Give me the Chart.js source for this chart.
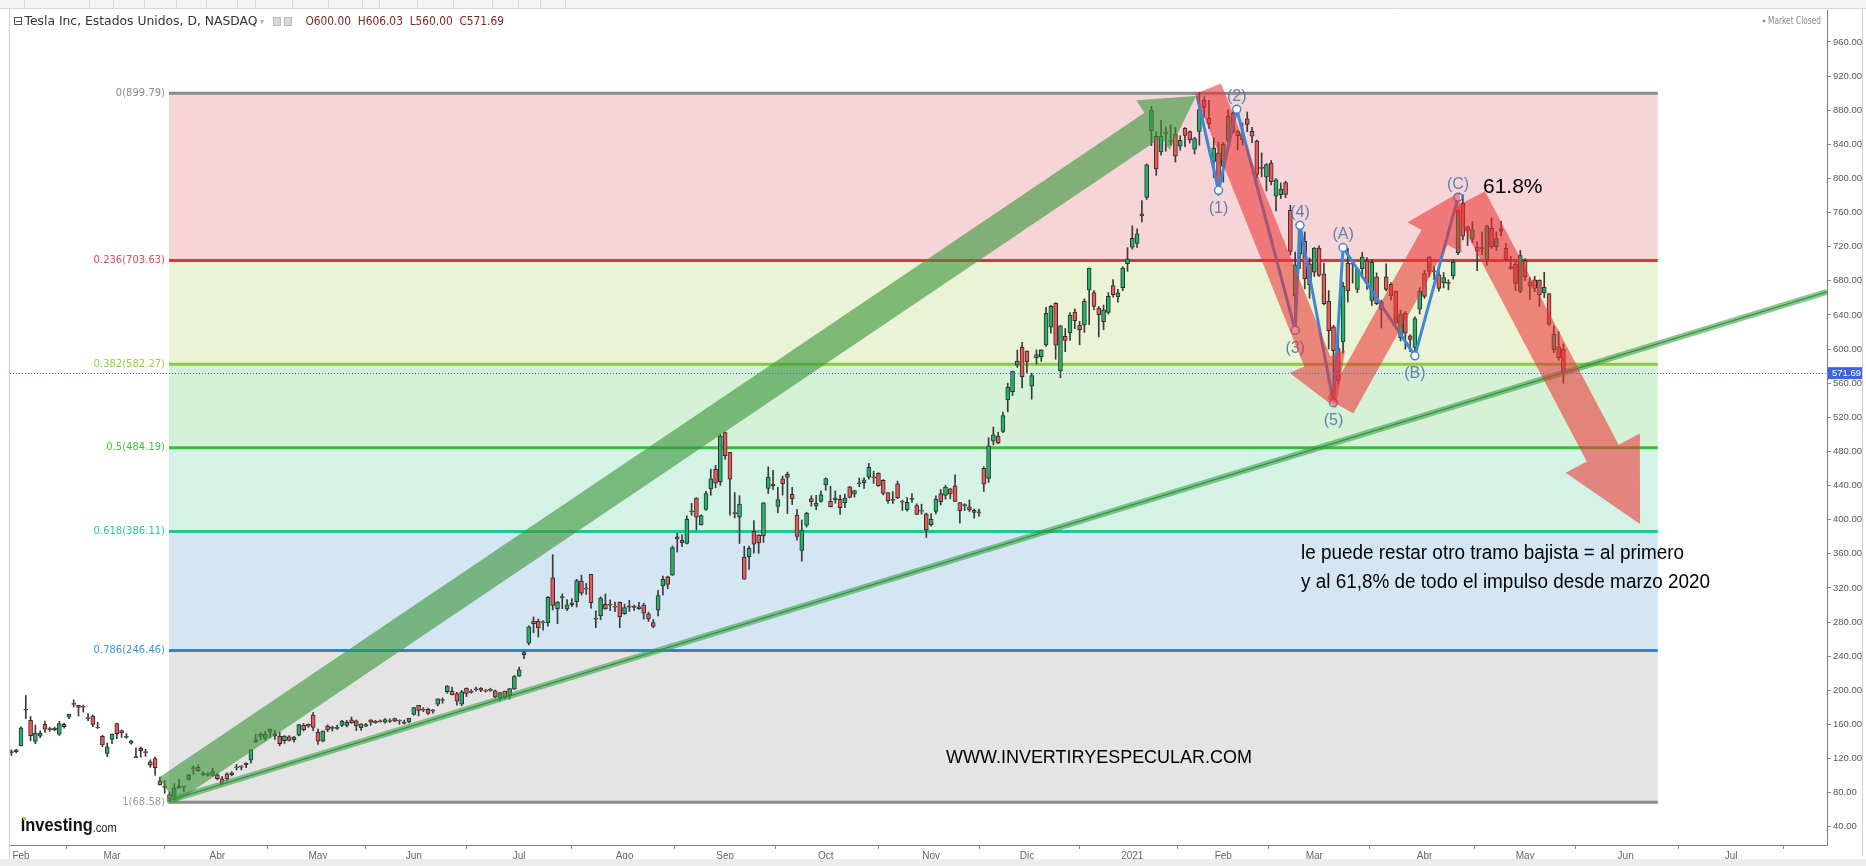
<!DOCTYPE html>
<html><head><meta charset="utf-8">
<script src="https://cdn.jsdelivr.net/npm/chart.js@4.4.1/dist/chart.umd.min.js"></script>
<style>html,body{margin:0;padding:0;background:#fff;}canvas{display:block;}</style>
</head><body>
<canvas id="c" width="1866" height="866" style="width:1866px;height:866px"></canvas>
<script>
// ---------- DATA (split-adjusted TSLA daily candles, Jan 30 2020 .. May 13 2021, index = trading day) ----------
const opens = [
126.5,128.0,
134.7,176.6,164.7,140.0,146.1,160.0,153.8,155.6,148.4,157.4,168.3,184.6,182.4,181.4,167.8,169.8,156.5,146.0,125.9,
142.3,161.0,152.8,144.8,138.0,121.1,131.9,128.0,116.2,119.8,93.8,88.0,77.8,74.9,87.6,86.7,95.5,109.0,109.5,101.0,102.1,100.3,
100.8,96.2,101.9,101.0,109.0,111.0,112.4,118.0,139.8,148.4,143.4,154.5,146.5,146.0,140.8,145.5,142.2,147.4,159.1,158.0,171.0,
151.0,140.2,157.9,155.3,155.4,158.8,158.8,165.2,164.2,156.0,158.0,165.3,163.6,163.8,162.7,164.4,166.9,164.2,162.7,162.8,
171.6,182.2,177.6,177.5,175.6,183.8,188.0,198.4,198.9,196.0,183.6,202.4,197.5,200.6,202.6,199.9,199.8,199.2,190.9,198.9,193.8,201.3,
216.6,244.3,255.3,281.0,281.0,279.4,279.2,331.8,295.4,308.6,295.4,302.6,303.8,327.9,319.8,335.8,283.2,287.0,300.8,300.2,297.6,303.0,
289.8,299.0,298.6,295.6,299.9,289.6,279.2,294.0,322.2,333.0,335.0,379.8,373.0,372.1,408.9,425.3,394.0,412.0,436.1,459.0,444.6,
502.1,479.0,407.2,402.8,356.0,356.6,386.2,381.9,381.0,436.6,439.9,415.6,447.9,453.1,429.6,405.2,363.8,393.5,424.6,416.0,421.3,
440.8,421.4,423.4,423.8,419.9,438.4,430.1,442.0,443.4,449.8,450.3,454.4,446.2,431.8,422.7,441.9,421.8,411.6,423.8,416.5,410.0,406.9,
394.0,409.7,430.6,428.3,436.1,439.5,420.1,416.5,415.1,410.9,408.9,460.2,448.4,492.0,498.0,503.5,540.4,550.1,581.2,602.2,
597.6,556.4,590.0,591.0,604.9,625.5,653.7,574.4,615.0,619.0,643.3,628.2,628.2,668.9,666.2,648.0,632.2,643.0,674.5,661.0,672.0,700.0,
719.5,723.7,758.5,777.6,856.0,849.4,831.0,852.8,843.4,852.0,837.8,858.7,855.0,834.3,855.0,891.4,870.4,820.0,830.0,
814.3,844.7,877.0,855.0,845.0,869.7,855.1,843.6,812.4,801.3,818.0,779.1,780.9,795.0,762.6,662.1,711.9,726.2,700.0,
690.1,718.3,688.0,655.8,626.1,600.6,608.2,700.3,699.4,670.0,694.1,703.4,656.9,684.3,646.6,684.6,675.8,667.9,613.0,641.9,615.6,601.8,646.6,
688.4,707.7,690.3,687.0,677.4,677.8,685.7,712.7,770.7,743.1,728.7,719.6,717.4,704.8,741.5,719.8,741.0,718.0,696.4,699.5,667.6,
703.8,678.9,681.1,680.8,665.8,664.9,599.2,602.5,600.0];
const highs = [
130.2,130.6,
157.2,193.8,169.2,159.2,152.4,164.0,156.7,157.0,163.6,161.6,172.0,188.9,182.4,182.6,172.7,171.3,162.6,147.2,138.2,
148.7,161.4,153.4,149.1,141.4,132.6,133.6,130.8,118.6,121.6,98.1,94.4,80.9,90.4,95.4,87.1,101.2,111.4,112.4,104.4,103.5,108.6,
102.8,98.9,103.1,104.4,113.0,111.6,115.0,130.4,148.4,150.6,151.9,154.9,153.1,150.7,146.8,146.8,146.1,159.9,161.0,160.6,173.9,
154.6,152.4,159.5,157.9,159.2,164.8,164.8,168.7,165.2,160.7,161.2,165.3,164.8,165.2,166.7,166.4,167.5,165.2,165.0,167.0,
179.8,182.3,179.6,179.2,177.3,190.0,190.9,205.5,203.8,197.6,199.8,202.6,201.0,203.8,203.2,200.8,202.4,200.2,197.2,199.0,202.0,217.5,
227.1,245.6,275.6,285.9,283.5,281.7,309.8,359.0,304.0,313.0,306.3,307.5,330.0,335.0,325.3,335.9,293.0,309.6,312.9,306.0,303.4,303.4,
301.0,305.5,299.9,303.0,302.0,291.5,283.0,317.0,333.8,333.8,369.2,384.0,382.2,404.4,419.1,425.8,405.6,433.2,459.1,463.7,500.1,
502.5,479.0,431.8,428.0,368.7,369.0,399.0,382.5,420.0,461.9,457.8,437.8,451.0,455.7,437.8,412.2,399.5,408.7,428.1,428.5,433.9,
448.9,439.1,433.6,428.8,429.9,439.0,434.5,448.7,448.9,465.9,456.6,455.0,447.0,431.8,432.9,445.2,422.9,425.8,430.5,418.6,418.1,407.6,
407.0,427.8,435.4,440.0,436.5,452.5,420.1,418.7,423.0,412.5,412.5,462.0,496.0,508.6,502.5,526.0,560.0,574.0,598.8,607.8,
597.9,571.5,599.0,599.0,648.8,651.3,654.3,627.7,624.0,642.8,646.9,632.5,658.8,695.0,668.5,649.9,651.5,666.1,681.4,669.9,696.6,718.7,
744.5,740.8,774.0,817.0,884.5,854.4,868.0,860.5,863.0,859.9,850.0,859.5,855.7,848.0,900.4,895.9,891.5,848.0,842.4,
842.0,880.5,878.1,856.5,864.8,877.8,859.8,844.8,829.9,817.3,821.0,799.8,794.7,796.8,768.5,713.6,745.0,737.2,706.7,
719.0,721.1,700.7,668.5,627.8,620.1,678.1,717.9,702.5,694.9,713.2,707.3,704.5,689.2,657.2,700.0,677.8,668.0,645.5,643.8,616.5,637.7,672.0,
692.4,708.2,696.6,691.4,689.6,681.0,704.8,763.0,780.8,743.7,749.4,725.4,737.2,745.0,753.8,737.4,749.3,724.0,708.5,702.3,715.5,
706.0,683.5,685.3,681.0,690.0,665.1,627.1,620.4,606.03];
const lows = [
123.6,126.5,
134.6,166.8,140.8,137.4,144.5,150.5,151.9,152.5,147.0,155.6,166.6,180.4,169.8,174.4,164.4,157.4,155.2,133.8,122.3,
137.5,143.2,144.7,143.6,136.9,121.0,121.6,122.5,109.6,100.4,88.6,79.2,70.1,71.7,85.2,81.1,94.6,101.5,104.9,99.7,99.3,99.4,
95.0,89.3,93.7,99.6,106.5,106.6,109.3,114.6,138.5,142.0,141.3,144.8,142.4,134.8,137.7,140.6,139.2,146.6,152.2,156.7,152.7,
136.6,139.6,151.5,152.2,154.2,157.4,157.0,161.2,152.7,152.8,157.4,158.8,161.2,162.6,161.3,162.4,163.0,160.2,160.6,161.6,
170.8,170.0,175.0,171.7,173.2,181.8,184.8,196.5,194.4,182.5,181.7,192.5,196.5,198.9,198.3,197.8,198.8,190.9,187.4,190.2,189.7,200.8,
216.1,237.1,253.2,267.3,262.3,270.3,275.2,294.2,278.0,295.5,293.2,298.0,297.6,311.6,312.4,296.3,273.3,282.6,294.9,293.4,292.0,273.4,
288.9,292.4,293.7,294.7,283.4,280.5,273.2,287.0,311.6,319.0,334.6,362.0,368.2,371.4,405.0,388.0,393.6,410.7,428.5,437.3,440.1,
470.5,405.1,402.0,372.0,329.9,341.5,360.6,360.5,373.3,430.7,435.3,408.0,428.8,407.1,417.6,375.9,351.3,391.3,415.6,411.6,420.5,
434.4,415.0,419.3,406.1,413.9,425.5,426.3,438.6,436.6,447.4,442.5,438.9,428.9,419.0,418.8,424.5,410.6,410.0,420.1,406.0,406.5,379.1,
392.3,406.7,417.1,424.0,424.3,421.0,396.0,410.6,409.5,401.7,404.0,433.0,443.5,487.6,489.1,501.8,526.2,545.4,578.5,554.5,
572.1,541.2,582.4,585.5,603.1,618.5,588.0,566.3,596.8,610.2,623.8,605.0,619.5,628.5,646.1,614.2,622.6,641.0,660.8,655.0,668.4,691.1,
717.2,719.2,749.1,775.2,838.4,803.6,827.3,832.0,838.8,819.1,833.0,837.3,841.4,828.6,838.8,871.6,858.7,801.0,780.1,
795.6,842.2,853.1,833.4,839.0,854.8,841.8,800.0,801.7,785.3,792.4,762.0,776.3,777.4,710.2,619.0,694.2,670.6,659.5,
685.1,685.0,651.7,600.0,539.5,558.8,595.2,655.1,677.2,666.1,684.0,670.0,651.0,652.0,624.6,668.0,657.5,630.1,609.5,599.9,597.0,591.0,641.1,
659.4,684.7,681.4,667.8,671.7,669.4,682.1,710.7,728.0,721.3,724.6,691.8,710.7,698.0,718.0,715.5,732.6,703.4,693.6,668.5,666.1,
680.5,657.7,667.3,650.0,660.2,627.6,595.6,586.8,560.0];
const closes = [
128.2,130.1,
156.0,177.4,146.9,149.8,149.6,154.3,154.9,153.5,160.8,160.0,171.7,183.5,179.9,180.2,166.8,160.0,155.8,135.8,133.6,
148.7,149.1,149.9,144.9,140.7,121.6,129.1,126.8,112.1,109.3,89.0,86.0,72.2,85.5,85.5,86.9,101.0,107.9,105.6,102.9,100.4,104.8,
96.3,90.9,96.0,103.2,109.1,109.8,114.6,130.2,142.0,146.0,149.0,150.8,149.3,137.3,146.4,141.1,145.0,159.8,153.8,160.1,156.4,
140.3,152.2,153.6,156.5,156.0,163.9,162.3,161.9,158.2,160.7,159.8,162.7,161.6,163.1,165.5,163.4,163.8,164.0,161.2,167.0,
179.6,176.3,176.6,172.9,177.1,190.0,188.1,205.0,194.6,187.1,198.2,196.4,198.4,200.8,200.2,198.9,200.4,192.2,197.2,192.0,201.9,216.0,
223.9,241.7,274.3,278.0,273.2,278.9,308.9,299.4,303.4,309.2,300.1,300.2,328.6,313.7,318.5,302.6,283.4,307.9,295.3,299.8,297.5,286.2,
297.0,297.4,297.0,297.9,290.5,283.7,274.9,311.0,330.1,324.2,367.1,377.4,375.7,400.4,410.0,402.8,404.7,430.6,447.8,442.7,498.3,
475.1,447.4,407.0,418.3,330.2,366.3,371.3,372.7,419.6,449.8,441.8,423.4,442.2,449.4,424.2,380.4,387.8,407.3,421.2,419.1,429.0,
448.2,415.1,425.7,414.0,425.3,425.9,434.0,442.3,446.7,461.3,448.9,439.7,430.8,421.9,422.6,425.8,420.6,420.3,424.7,406.0,410.8,388.0,
400.5,423.9,421.0,438.1,430.0,421.3,410.4,417.1,411.8,408.5,408.1,441.6,486.6,499.3,489.6,521.9,555.4,574.0,585.8,567.6,
584.8,568.8,593.4,599.0,641.8,649.9,604.5,627.1,610.0,639.8,633.3,622.8,655.9,695.0,649.9,640.3,646.0,661.8,663.7,666.0,694.8,705.7,
729.8,735.1,756.0,816.0,880.0,811.2,849.4,854.4,845.0,826.2,844.6,850.5,845.0,846.6,880.8,883.1,864.2,835.4,793.5,
839.8,872.8,854.7,850.0,852.2,863.4,849.5,804.8,811.7,816.1,796.2,798.2,787.4,781.3,714.5,698.8,742.0,682.2,675.5,
718.4,686.4,653.2,621.4,598.0,563.0,673.6,668.1,699.6,693.7,707.9,676.9,701.8,653.2,654.9,670.0,662.2,630.3,640.4,618.7,611.3,635.6,667.9,
661.8,691.1,691.6,671.0,683.8,677.0,702.0,762.3,732.2,738.9,739.8,714.6,719.0,744.1,719.7,729.4,738.2,704.7,694.4,677.0,709.4,
684.9,673.6,670.9,663.5,672.4,629.0,617.2,589.9,571.69];

// x-axis month ticks (trading-day index) and labels
const monthTickIdx = [2,21,43,64,84,106,128,149,170,192,212,234,253,272,295,316,337,359];
const monthTickLbl = ['Feb','Mar','Abr','May','Jun','Jul','Ago','Sep','Oct','Nov','Dic','2021','Feb','Mar','Abr','May','Jun','Jul'];
// y-axis ticks
const yTicks = [40,80,120,160,200,240,280,320,360,400,440,480,520,560,600,640,680,720,760,800,840,880,920,960];

// Fibonacci retracement
const fibRatio = ['0','0.236','0.382','0.5','0.618','0.786','1'];
const fibPrice = [899.79,703.63,582.27,484.19,386.11,246.46,68.58];
const fibStartIdx = 32.9, fibEndIdx = 343.7;

// last price
const lastPrice = 571.69;
const ohlcHeader = ['O600.00','H606.03','L560.00','C571.69'];

// Elliott wave points [index, price] and labels
const wavePts = [[247.5,897],[252,786],[255.8,881],[268,622],[269,745],[276,537],[278,719],[293,592],[302,778]];
const waveLbl = ['', '(1)','(2)','(3)','(4)','(5)','(A)','(B)','(C)'];
const waveLblBelow = [false,true,false,true,false,true,false,true,false];

// trend line [index, price]
const trendPts = [[32.5,70.0],[379,667]];
// arrows: [tailIdx, tailPrice, tipIdx, tipPrice]
const greenArrow = [32.5,83,247.3,896.5];
const redArrows = [[249.8,905,276.5,531],[277.4,533,302.4,784],[304.3,775,340,395]];

// ---------- CHART ----------
const UP='#23b46c', DOWN='#ef5656';
const wickData = closes.map((c,i)=>({x:i,y:[lows[i],highs[i]]}));
const bodyData = closes.map((c,i)=>({x:i,y:[opens[i],c]}));
const bodyColors = closes.map((c,i)=> c>=opens[i]?UP:DOWN);

function P(chart, i, p){ return [chart.scales.x.getPixelForValue(i), chart.scales.y.getPixelForValue(p)]; }

function arrow(ctx, a, b, sw, hw, hl, color){
  const dx=b[0]-a[0], dy=b[1]-a[1], L=Math.hypot(dx,dy), ux=dx/L, uy=dy/L, nx=-uy, ny=ux;
  const bx=b[0]-ux*hl, by=b[1]-uy*hl;
  ctx.beginPath();
  ctx.moveTo(a[0]+nx*sw/2, a[1]+ny*sw/2);
  ctx.lineTo(bx+nx*sw/2, by+ny*sw/2);
  ctx.lineTo(bx+nx*hw/2, by+ny*hw/2);
  ctx.lineTo(b[0], b[1]);
  ctx.lineTo(bx-nx*hw/2, by-ny*hw/2);
  ctx.lineTo(bx-nx*sw/2, by-ny*sw/2);
  ctx.lineTo(a[0]-nx*sw/2, a[1]-ny*sw/2);
  ctx.closePath();
  ctx.fillStyle=color; ctx.fill();
}
function fitText(ctx, text, x, y, w, font, color){
  ctx.save(); ctx.font=font; ctx.fillStyle=color; ctx.textBaseline='middle'; ctx.textAlign='left';
  const m=ctx.measureText(text).width; ctx.translate(x,y); ctx.scale(w/m,1); ctx.fillText(text,0,0); ctx.restore();
}

const fibFill = ['#f5d5d8','#eaf3d6','#d6f2d6','#d4f3e6','#d4e6f3','#e4e4e4'];
const fibLine = ['#8a8a8a','#d9363e','#8dc63f','#2fc33a','#22c490','#2a86cc','#8a8a8a'];
const fibText = ['#8a8a8a','#e04a4f','#9bcb3d','#3dc43d','#2bc996','#3b94d9','#9a9a9a'];

const bgPlugin = {
  id:'bg',
  beforeDatasetsDraw(chart){
    const ctx=chart.ctx, x=chart.scales.x, y=chart.scales.y;
    const x0=x.getPixelForValue(fibStartIdx), x1=x.getPixelForValue(fibEndIdx);
    ctx.save();
    for(let k=0;k<6;k++){
      const ya=y.getPixelForValue(fibPrice[k]), yb=y.getPixelForValue(fibPrice[k+1]);
      ctx.fillStyle=fibFill[k]; ctx.fillRect(x0,ya,x1-x0,yb-ya);
    }
    for(let k=0;k<7;k++){
      const yy=y.getPixelForValue(fibPrice[k]);
      ctx.strokeStyle=fibLine[k]; ctx.lineWidth=3; ctx.beginPath(); ctx.moveTo(x0,yy); ctx.lineTo(x1,yy); ctx.stroke();
      ctx.font='10px "DejaVu Sans"'; ctx.fillStyle=fibText[k]; ctx.textAlign='right'; ctx.textBaseline='middle';
      ctx.fillText(fibRatio[k]+'('+fibPrice[k].toFixed(2)+')', x0-4, yy);
    }
    ctx.restore();
  }
};

const annPlugin = {
  id:'ann',
  afterDatasetsDraw(chart){
    const ctx=chart.ctx, ca=chart.chartArea;
    ctx.save();
    ctx.beginPath(); ctx.rect(ca.left,ca.top,ca.right-ca.left,ca.bottom-ca.top); ctx.clip();
    // trend line
    const t0=P(chart,trendPts[0][0],trendPts[0][1]), t1=P(chart,trendPts[1][0],trendPts[1][1]);
    ctx.lineCap='butt';
    ctx.strokeStyle='rgba(60,160,70,0.6)'; ctx.lineWidth=6;
    ctx.beginPath(); ctx.moveTo(t0[0],t0[1]); ctx.lineTo(t1[0],t1[1]); ctx.stroke();
    ctx.strokeStyle='rgba(40,140,60,0.85)'; ctx.lineWidth=1.5;
    ctx.beginPath(); ctx.moveTo(t0[0],t0[1]); ctx.lineTo(t1[0],t1[1]); ctx.stroke();
    // elliott wave line
    const wp=wavePts.map(p=>P(chart,p[0],p[1]));
    ctx.strokeStyle='#3f86d4'; ctx.lineWidth=3; ctx.lineJoin='round';
    ctx.beginPath(); wp.forEach((p,i)=>i?ctx.lineTo(p[0],p[1]):ctx.moveTo(p[0],p[1])); ctx.stroke();
    wp.forEach((p,i)=>{ if(!i) return; ctx.beginPath(); ctx.arc(p[0],p[1],4,0,Math.PI*2); ctx.fillStyle='#fff'; ctx.fill(); ctx.lineWidth=1.5; ctx.strokeStyle='#4a86c8'; ctx.stroke(); });
    ctx.font='16px "Liberation Sans"'; ctx.fillStyle='#5f80ad'; ctx.textAlign='center'; ctx.textBaseline='middle';
    wp.forEach((p,i)=>{ if(!waveLbl[i]) return; ctx.fillText(waveLbl[i], p[0], p[1]+(waveLblBelow[i]?18:-13)); });
    // red arrows
    const sizes=[[28,60,50],[30,62,52],[36,84,80]];
    redArrows.forEach((r,k)=>{ arrow(ctx,P(chart,r[0],r[1]),P(chart,r[2],r[3]),sizes[k][0],sizes[k][1],sizes[k][2],'rgba(235,50,50,0.57)'); });
    // green arrow
    arrow(ctx,P(chart,greenArrow[0],greenArrow[1]),P(chart,greenArrow[2],greenArrow[3]),30,60,52,'rgba(60,150,60,0.62)');
    ctx.restore();
    // texts
    ctx.save();
    ctx.fillStyle='#000'; ctx.font='21px "Liberation Sans"'; ctx.textBaseline='middle'; ctx.textAlign='left';
    ctx.fillText('61.8%', 1483, 187);
    fitText(ctx,'le puede restar otro tramo bajista = al primero',1301,553,383,'20px "Liberation Sans Narrow","Liberation Sans"','#000');
    fitText(ctx,'y al 61,8% de todo el impulso desde marzo 2020',1301,582,409,'20px "Liberation Sans Narrow","Liberation Sans"','#000');
    fitText(ctx,'WWW.INVERTIRYESPECULAR.COM',946,758,306,'19px "Liberation Sans Narrow","Liberation Sans"','#000');
    // last price dotted line
    const py=chart.scales.y.getPixelForValue(lastPrice);
    ctx.strokeStyle='#4a6ee0'; ctx.lineWidth=1; ctx.setLineDash([1,2]);
    ctx.beginPath(); ctx.moveTo(ca.left,Math.round(py)+0.5); ctx.lineTo(ca.right,Math.round(py)+0.5); ctx.stroke();
    ctx.setLineDash([]);
    ctx.restore();
  },
  afterDraw(chart){
    const ctx=chart.ctx, ca=chart.chartArea;
    ctx.save();
    // top toolbar
    ctx.fillStyle='#f3f3f3'; ctx.fillRect(0,0,1866,8);
    ctx.strokeStyle='#d6d6d6'; ctx.lineWidth=1;
    [24,89,113,144,176,206,237,255,292,328,362,379,417,453,492,518,540,565].forEach(x=>{ctx.beginPath();ctx.moveTo(x+0.5,0);ctx.lineTo(x+0.5,8);ctx.stroke();});
    ctx.beginPath(); ctx.moveTo(0,8.5); ctx.lineTo(1866,8.5); ctx.stroke();
    // left border
    ctx.strokeStyle='#d0d0d0'; ctx.beginPath(); ctx.moveTo(9.5,9); ctx.lineTo(9.5,866); ctx.stroke();
    // right border
    ctx.beginPath(); ctx.moveTo(1862.5,9); ctx.lineTo(1862.5,856); ctx.stroke();
    // bottom strip
    ctx.fillStyle='#ececec'; ctx.fillRect(0,859,1866,7);
    // header
    ctx.strokeStyle='#555'; ctx.lineWidth=1; ctx.strokeRect(14.5,17.5,7,7);
    ctx.beginPath(); ctx.moveTo(16,21.5); ctx.lineTo(21,21.5); ctx.stroke();
    fitText(ctx,'Tesla Inc, Estados Unidos, D, NASDAQ',24.5,21.5,233,'12px "DejaVu Sans"','#333');
    ctx.fillStyle='#aaa'; ctx.font='8px "DejaVu Sans"'; ctx.textBaseline='middle'; ctx.fillText('▾',260,22);
    ctx.fillStyle='#d8d8d8'; ctx.fillRect(273,17,8,9); ctx.fillRect(284,17,8,9);
    ctx.strokeStyle='#bbb'; ctx.strokeRect(273.5,17.5,7,8); ctx.strokeRect(284.5,17.5,7,8);
    fitText(ctx,ohlcHeader.join('  '),305.5,21.5,198.5,'12px "DejaVu Sans"','#7e2626');
    ctx.fillStyle='#999'; ctx.beginPath(); ctx.arc(1764,21,1.6,0,Math.PI*2); ctx.fill();
    fitText(ctx,'Market Closed',1768,21,53,'10px "DejaVu Sans"','#888');
    // logo
    fitText(ctx,'Investing',20.7,826,72,'bold 18px "Liberation Sans"','#111');
    fitText(ctx,'.com',92.7,828,24,'13px "Liberation Sans"','#222');
    ctx.fillStyle='#f7a21b'; ctx.fillRect(23,817,3,3);
    // last price label
    const py=chart.scales.y.getPixelForValue(lastPrice);
    ctx.fillStyle='#3d63e3'; ctx.fillRect(ca.right+1,py-6,34,12);
    ctx.fillStyle='#fff'; ctx.font='9.5px "Liberation Sans"'; ctx.textAlign='left'; ctx.textBaseline='middle';
    ctx.fillText(lastPrice.toFixed(2), ca.right+5, py);
    ctx.restore();
  }
};

new Chart(document.getElementById('c').getContext('2d'), {
  type:'bar',
  data:{datasets:[
    {data:wickData, backgroundColor:'#3a3a3a', barThickness:1, grouped:false, order:2},
    {data:bodyData, backgroundColor:bodyColors, borderColor:'#2e2e2e', borderWidth:1, borderSkipped:false, barThickness:4, minBarLength:1, grouped:false, order:1}
  ]},
  options:{
    responsive:false, maintainAspectRatio:false, animation:false, devicePixelRatio:1,
    layout:{padding:{left:10,top:10,right:0,bottom:0}},
    plugins:{legend:{display:false}, tooltip:{enabled:false}},
    scales:{
      x:{type:'linear', min:-0.296, max:379.03, offset:false,
         afterBuildTicks:(ax)=>{ ax.ticks = monthTickIdx.map(v=>({value:v})); },
         afterFit:(s)=>{ s.height=21; },
         grid:{drawOnChartArea:false, tickLength:4, color:'#8a8a8a'},
         border:{display:true,color:'#7a7a7a'},
         ticks:{autoSkip:false, maxRotation:0, padding:1, color:'#666', font:{family:'"Liberation Sans"', size:10},
                callback:(v)=>{ const k=monthTickIdx.indexOf(v); return k>=0?monthTickLbl[k]:''; }}},
      y:{position:'right', min:18.6, max:997.4,
         afterBuildTicks:(ax)=>{ ax.ticks = yTicks.map(v=>({value:v})); },
         afterFit:(s)=>{ s.width=39; },
         grid:{drawOnChartArea:false, tickLength:4, color:'#8a8a8a'},
         border:{display:true,color:'#7a7a7a'},
         ticks:{padding:2, color:'#555', font:{family:'"Liberation Sans"', size:9.5}, callback:(v)=>Number(v).toFixed(2)}}
    }
  },
  plugins:[bgPlugin, annPlugin]
});
</script>
</body></html>
